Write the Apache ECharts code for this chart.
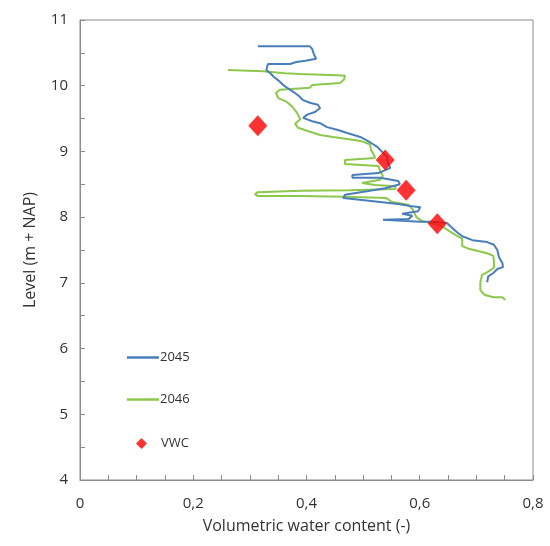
<!DOCTYPE html>
<html>
<head>
<meta charset="utf-8">
<script src="https://cdn.jsdelivr.net/npm/echarts@6/dist/echarts.min.js"></script>
<style>html,body{margin:0;padding:0;background:#fff}#c{width:550px;height:546px}</style>
</head>
<body>
<div id="c"></div>
<script>
// [volumetric water content, level (m + NAP)]
const s2045 = [
[0.314,10.60],[0.406,10.60],[0.410,10.56],[0.413,10.48],[0.417,10.41],[0.398,10.38],[0.382,10.36],[0.371,10.33],
[0.332,10.33],[0.329,10.24],[0.336,10.19],[0.343,10.13],[0.352,10.07],[0.359,10.01],[0.369,9.95],[0.378,9.90],
[0.387,9.84],[0.394,9.78],[0.406,9.74],[0.420,9.71],[0.424,9.66],[0.415,9.60],[0.401,9.56],[0.394,9.51],
[0.410,9.46],[0.424,9.43],[0.436,9.37],[0.454,9.33],[0.472,9.28],[0.495,9.22],[0.512,9.14],[0.525,9.07],
[0.534,8.99],[0.542,8.92],[0.544,8.82],[0.548,8.75],[0.527,8.67],[0.481,8.64],[0.481,8.60],[0.530,8.60],
[0.562,8.55],[0.565,8.50],[0.539,8.44],[0.512,8.40],[0.468,8.34],[0.465,8.29],[0.498,8.26],[0.530,8.23],
[0.562,8.20],[0.583,8.17],[0.601,8.15],[0.597,8.09],[0.569,8.05],[0.587,8.02],[0.580,7.97],[0.535,7.96],
[0.535,7.93],[0.601,7.93],[0.622,7.93],[0.648,7.91],[0.657,7.84],[0.666,7.77],[0.675,7.71],[0.693,7.65],
[0.719,7.62],[0.731,7.58],[0.737,7.50],[0.740,7.39],[0.746,7.30],[0.747,7.24],[0.737,7.21],[0.730,7.15],
[0.721,7.10],[0.719,7.01]
];
const s2046 = [
[0.261,10.24],[0.323,10.22],[0.362,10.19],[0.389,10.18],[0.454,10.16],[0.468,10.15],[0.466,10.09],[0.459,10.04],
[0.410,10.01],[0.406,9.97],[0.353,9.94],[0.346,9.89],[0.350,9.81],[0.366,9.75],[0.375,9.68],[0.383,9.59],
[0.389,9.49],[0.380,9.42],[0.385,9.36],[0.406,9.30],[0.424,9.25],[0.447,9.22],[0.472,9.19],[0.495,9.16],
[0.512,9.11],[0.514,9.02],[0.519,8.95],[0.521,8.90],[0.468,8.87],[0.468,8.81],[0.527,8.78],[0.530,8.70],
[0.535,8.63],[0.530,8.57],[0.498,8.52],[0.521,8.49],[0.557,8.47],[0.557,8.43],[0.477,8.41],[0.389,8.40],
[0.314,8.38],[0.309,8.35],[0.314,8.32],[0.389,8.32],[0.468,8.31],[0.541,8.29],[0.551,8.23],[0.580,8.19],
[0.588,8.11],[0.594,8.00],[0.604,7.94],[0.618,7.91],[0.636,7.88],[0.650,7.80],[0.663,7.73],[0.675,7.67],
[0.675,7.56],[0.686,7.52],[0.701,7.49],[0.719,7.45],[0.730,7.41],[0.731,7.32],[0.731,7.23],[0.721,7.17],
[0.710,7.12],[0.707,7.01],[0.707,6.89],[0.714,6.82],[0.730,6.78],[0.746,6.78],[0.751,6.74]
];
const vwc = [[0.314,9.39],[0.539,8.87],[0.576,8.41],[0.631,7.90]];
const seriesNames = ['2045','2046','VWC'];
const xTicks = {min:0, max:0.8, interval:0.2};
const yTicks = {min:4, max:11, interval:1};

const font = 'Open Sans, Liberation Sans, sans-serif';
const chart = echarts.init(document.getElementById('c'), null, {renderer:'canvas'});
chart.setOption({
  animation:false,
  backgroundColor:'#fff',
  grid:{left:80, right:17, top:20, bottom:66, show:true, borderColor:'#8c8c8c', borderWidth:1, backgroundColor:'transparent'},
  legend:[
    {orient:'vertical', left:122, top:346, itemGap:29, itemWidth:32, itemHeight:2.5, icon:'rect',
     textStyle:{fontFamily:font, fontSize:13, color:'#333', padding:[0,0,0,-4]},
     data:[seriesNames[0], seriesNames[1]]},
    {orient:'vertical', left:131, top:432, itemWidth:11, itemHeight:11, icon:'diamond',
     textStyle:{fontFamily:font, fontSize:13, color:'#333', padding:[0,0,0,9]},
     data:[seriesNames[2]]}
  ],
  xAxis:{
    type:'value', min:xTicks.min, max:xTicks.max, interval:xTicks.interval,
    name:'Volumetric water content (-)', nameLocation:'middle', nameGap:38,
    nameTextStyle:{fontFamily:font, fontSize:16, color:'#333'},
    axisLine:{show:true, lineStyle:{color:'#8c8c8c', width:1}},
    axisTick:{show:true, inside:true, length:5, lineStyle:{color:'#8c8c8c'}},
    minorTick:{show:true, splitNumber:4, length:5, lineStyle:{color:'#8c8c8c'}},
    splitLine:{show:false},
    axisLabel:{fontFamily:font, fontSize:15, color:'#333', margin:16,
      formatter:v=>String(Math.round(v*10)/10).replace('.',',')}
  },
  yAxis:{
    type:'value', min:yTicks.min, max:yTicks.max, interval:yTicks.interval,
    name:'Level (m + NAP)', nameLocation:'middle', nameGap:42,
    nameTextStyle:{fontFamily:font, fontSize:16, color:'#333'},
    axisLine:{show:true, lineStyle:{color:'#8c8c8c', width:1}},
    axisTick:{show:true, inside:true, length:5, lineStyle:{color:'#8c8c8c'}},
    minorTick:{show:true, splitNumber:2, length:5, lineStyle:{color:'#8c8c8c'}},
    splitLine:{show:false},
    axisLabel:{fontFamily:font, fontSize:15, color:'#333', margin:12}
  },
  series:[
    {name:seriesNames[0], type:'line', data:s2045, showSymbol:false, symbol:'none',
     lineStyle:{color:'#4a7ebb', width:2}, itemStyle:{color:'#4a7ebb'}, z:3},
    {name:seriesNames[1], type:'line', data:s2046, showSymbol:false, symbol:'none',
     lineStyle:{color:'#8cc84b', width:2}, itemStyle:{color:'#8cc84b'}, z:2},
    {name:seriesNames[2], type:'scatter', data:vwc, symbol:'diamond', symbolSize:[19,21],
     itemStyle:{color:'#ff0000'}, z:5}
  ]
});
</script>
</body>
</html>
